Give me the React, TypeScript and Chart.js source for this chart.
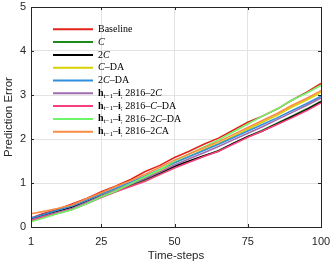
import React, { useEffect, useRef } from "react";
import { Chart, registerables } from "chart.js";
Chart.register(...registerables);

const timeSteps = [1, 5, 10, 15, 20, 25, 30, 35, 40, 45, 50, 55, 60, 65, 70, 75, 80, 85, 90, 95, 100];
const xTickValues = [1, 25, 50, 75, 100];
const yTickValues = [0, 1, 2, 3, 4, 5];

const baseline = [0.20, 0.30, 0.40, 0.52, 0.65, 0.80, 0.93, 1.08, 1.26, 1.40, 1.58, 1.72, 1.88, 2.02, 2.20, 2.38, 2.52, 2.68, 2.88, 3.06, 3.26];
const cOnly = [0.15, 0.23, 0.32, 0.41, 0.54, 0.68, 0.81, 0.94, 1.06, 1.21, 1.36, 1.49, 1.61, 1.74, 1.90, 2.06, 2.20, 2.36, 2.52, 2.68, 2.86];
const twoC = [0.18, 0.27, 0.36, 0.45, 0.58, 0.71, 0.84, 0.97, 1.09, 1.23, 1.38, 1.50, 1.62, 1.72, 1.90, 2.05, 2.18, 2.34, 2.50, 2.66, 2.84];
const cDA = [0.14, 0.22, 0.31, 0.40, 0.54, 0.70, 0.84, 0.98, 1.13, 1.29, 1.46, 1.60, 1.76, 1.90, 2.06, 2.22, 2.38, 2.54, 2.72, 2.88, 3.06];
const twoCDA = [0.20, 0.28, 0.38, 0.48, 0.61, 0.75, 0.88, 1.02, 1.16, 1.31, 1.46, 1.60, 1.74, 1.88, 2.03, 2.18, 2.33, 2.48, 2.64, 2.80, 2.97];
const hi2C = [0.16, 0.24, 0.33, 0.42, 0.56, 0.70, 0.83, 0.97, 1.10, 1.25, 1.41, 1.55, 1.69, 1.83, 1.98, 2.13, 2.28, 2.44, 2.60, 2.76, 2.93];
const hiCDA = [0.14, 0.22, 0.31, 0.40, 0.53, 0.67, 0.80, 0.92, 1.04, 1.19, 1.34, 1.47, 1.60, 1.72, 1.88, 2.04, 2.18, 2.33, 2.48, 2.64, 2.82];
const hi2CDA = [0.12, 0.20, 0.30, 0.39, 0.53, 0.68, 0.82, 0.98, 1.14, 1.30, 1.50, 1.66, 1.82, 1.98, 2.16, 2.34, 2.52, 2.68, 2.88, 3.04, 3.22];
const hi2CA = [0.30, 0.35, 0.42, 0.50, 0.64, 0.78, 0.92, 1.05, 1.20, 1.36, 1.52, 1.66, 1.80, 1.94, 2.10, 2.26, 2.42, 2.58, 2.76, 2.92, 3.10];

const seriesNames = [
  "Baseline", "C", "2C", "C–DA", "2C–DA",
  "h–i 2816–2C", "h–i 2816–C–DA", "h–i 2816–2C–DA", "h–i 2816–2CA",
];
const seriesValues = [baseline, cOnly, twoC, cDA, twoCDA, hi2C, hiCDA, hi2CDA, hi2CA];
const seriesColors = ["#e2231a", "#1a8a1a", "#000000", "#d8d000", "#2f8fdc", "#a06cb0", "#f8407f", "#6ef56a", "#f98c45"];

type Part = [string, string];
const H: Part[] = [["h", "b"], ["t−1", "s"], ["–", "n"], ["i", "b"], [";", "s"], [" 2816–", "n"]];
const legendLabels: Part[][] = [
  [["Baseline", "n"]],
  [["C", "i"]],
  [["2", "n"], ["C", "i"]],
  [["C", "i"], ["–DA", "n"]],
  [["2", "n"], ["C", "i"], ["–DA", "n"]],
  [...H, ["2", "n"], ["C", "i"]],
  [...H, ["C", "i"], ["–DA", "n"]],
  [...H, ["2", "n"], ["C", "i"], ["–DA", "n"]],
  [...H, ["2", "n"], ["C", "i"], ["A", "n"]],
];

const SERIF = '"Liberation Serif", "DejaVu Serif", serif';
const SANS = '"Liberation Sans", Arial, sans-serif';

const framePlugin = {
  id: "frame",
  afterDraw(chart: any) {
    const { ctx, chartArea: a } = chart;
    ctx.save();
    ctx.strokeStyle = "#262626";
    ctx.lineWidth = 1;
    ctx.strokeRect(Math.round(a.left) + 0.5, Math.round(a.top) + 0.5, Math.round(a.right - a.left), Math.round(a.bottom - a.top));
    const xs = chart.scales.x;
    const ys = chart.scales.y;
    ctx.beginPath();
    for (const v of xTickValues) {
      const px = Math.round(xs.getPixelForValue(v)) + 0.5;
      ctx.moveTo(px, a.bottom); ctx.lineTo(px, a.bottom - 3);
      ctx.moveTo(px, a.top); ctx.lineTo(px, a.top + 3);
    }
    for (const v of yTickValues) {
      const py = Math.round(ys.getPixelForValue(v)) + 0.5;
      ctx.moveTo(a.left, py); ctx.lineTo(a.left + 3, py);
      ctx.moveTo(a.right, py); ctx.lineTo(a.right - 3, py);
    }
    ctx.stroke();

    // legend
    const x0 = 53, x1 = 93, tx = 98;
    let y = 29.3;
    legendLabels.forEach((parts, i) => {
      ctx.strokeStyle = seriesColors[i];
      ctx.lineWidth = 2;
      ctx.beginPath();
      ctx.moveTo(x0, y); ctx.lineTo(x1, y);
      ctx.stroke();
      let cx = tx;
      ctx.fillStyle = "#000";
      ctx.textBaseline = "middle";
      for (const [t, s] of parts) {
        let font = `10px ${SERIF}`;
        let dy = 0;
        if (s === "b") font = `bold 10px ${SERIF}`;
        else if (s === "i") font = `italic 10px ${SERIF}`;
        else if (s === "s") { font = `7px ${SERIF}`; dy = 2.5; }
        ctx.font = font;
        ctx.fillText(t, cx, y + dy);
        cx += ctx.measureText(t).width;
      }
      y += 12.8;
    });
    ctx.restore();
  },
};

export default function App() {
  const ref = useRef<HTMLCanvasElement>(null);
  useEffect(() => {
    const chart = new Chart(ref.current!, {
      type: "line",
      data: {
        datasets: seriesValues.map((vals, i) => ({
          label: seriesNames[i],
          data: vals.map((v, j) => ({ x: timeSteps[j], y: v })),
          borderColor: seriesColors[i],
          backgroundColor: seriesColors[i],
          borderWidth: 1.6,
          pointRadius: 0,
          tension: 0,
          order: 9 - i,
        })),
      },
      options: {
        animation: false,
        responsive: false,
        maintainAspectRatio: false,
        layout: { padding: { top: 7, right: 11, left: 0, bottom: 0 } },
        plugins: { legend: { display: false }, tooltip: { enabled: false } },
        scales: {
          x: {
            type: "linear",
            min: 1,
            max: 100,
            afterBuildTicks: (s: any) => { s.ticks = xTickValues.map((v) => ({ value: v })); },
            afterFit: (s: any) => { s.height = 36; s.paddingLeft = 0; s.paddingRight = 0; },
            grid: { color: "#e3e3e3", drawTicks: false, lineWidth: 1 },
            border: { display: false },
            ticks: { font: { family: SANS, size: 11 }, color: "#262626", padding: 8, maxRotation: 0 },
            title: { display: true, text: "Time-steps", font: { family: SANS, size: 11.5 }, color: "#262626", padding: { top: 0, bottom: 0 } },
          },
          y: {
            type: "linear",
            min: 0,
            max: 5,
            afterBuildTicks: (s: any) => { s.ticks = yTickValues.map((v) => ({ value: v })); },
            afterFit: (s: any) => { s.width = 31; s.paddingTop = 0; s.paddingBottom = 0; },
            grid: { color: "#e3e3e3", drawTicks: false, lineWidth: 1 },
            border: { display: false },
            ticks: { font: { family: SANS, size: 11 }, color: "#262626", padding: 5 },
            title: { display: true, text: "Prediction Error", font: { family: SANS, size: 11.5 }, color: "#262626", padding: { top: 2, bottom: 0 } },
          },
        },
      },
      plugins: [framePlugin],
    } as any);
    return () => chart.destroy();
  }, []);
  return (
    <div style={{ position: "fixed", left: 0, top: 0, width: 332, height: 263 }}>
      <canvas ref={ref} width={332} height={263} style={{ width: 332, height: 263 }} />
    </div>
  );
}
